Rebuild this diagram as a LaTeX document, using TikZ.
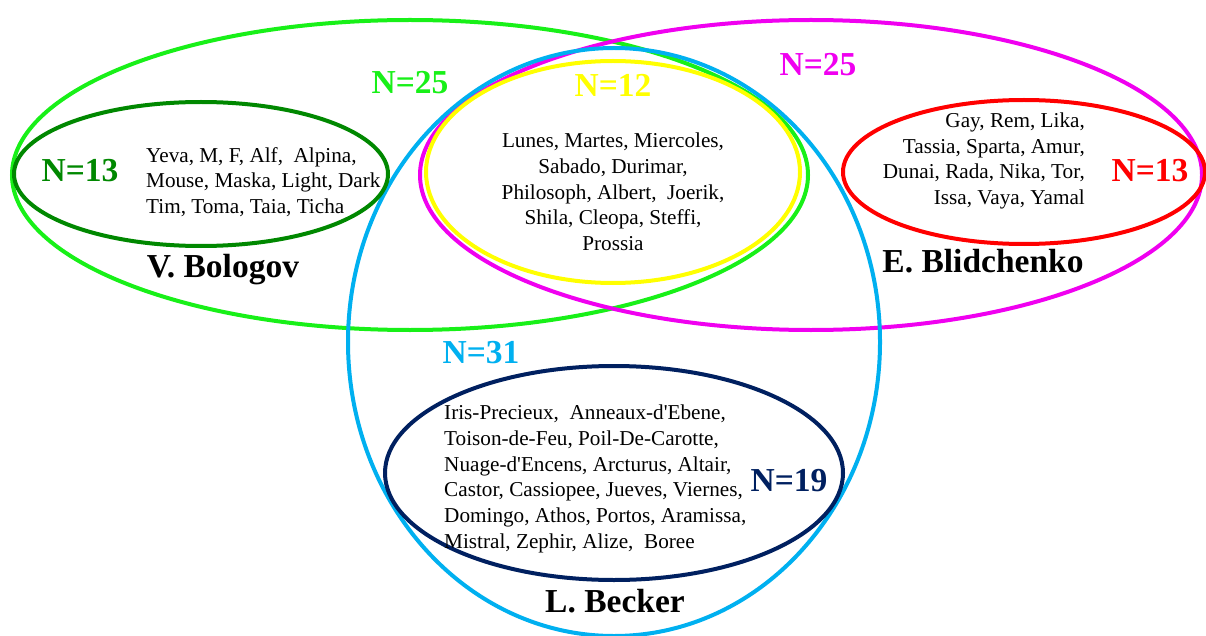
\documentclass[tikz,border=0pt]{standalone}
\usepackage{fontspec}
\setmainfont{Liberation Serif}
\definecolor{lgreen}{RGB}{24,240,24}
\definecolor{dgreen}{RGB}{0,136,0}
\definecolor{mag}{RGB}{240,0,240}
\definecolor{rred}{RGB}{255,0,0}
\definecolor{yel}{RGB}{255,255,0}
\definecolor{sky}{RGB}{0,176,240}
\definecolor{navy}{RGB}{0,32,96}
\newcommand{\ap}{\textquotesingle}
\tikzset{
	ring/.style={line width=4pt,draw=#1},
	count/.style={font=\fontsize{33.5}{33.5}\selectfont\bfseries,text=#1,inner sep=0pt},
	owner/.style={font=\fontsize{33.5}{33.5}\selectfont\bfseries,inner sep=0pt},
	names/.style={font=\fontsize{21.2}{25.7}\selectfont,inner sep=0pt,align=#1}
}

\begin{document}
\begin{tikzpicture}[x=1pt,y=-1pt]
	\useasboundingbox (0,0) rectangle (1206,636);
	\fill[white] (0,0) rectangle (1206,636);

	% outer rings
	\draw[ring=lgreen] (410,175) ellipse [x radius=398, y radius=155];
	\draw[ring=mag] (811,175) ellipse [x radius=391, y radius=155];
	\draw[ring=sky] (614,342) ellipse [x radius=266, y radius=294];

	% inner rings
	\draw[ring=dgreen] (201,174) ellipse [x radius=187, y radius=72];
	\draw[ring=rred] (1024,172) ellipse [x radius=181, y radius=72];
	\draw[ring=yel] (613,172) ellipse [x radius=187, y radius=111];
	\draw[ring=navy] (614,473) ellipse [x radius=229, y radius=107];

	% counts
	\node[count=lgreen] (nbol) at (410,83) {N=25};
	\node[count=yel] (ncom) at (613,85) {N=12};
	\node[count=mag] (nbli) at (818,65) {N=25};
	\node[count=dgreen] (nbolown) at (80,171) {N=13};
	\node[count=rred] (nbliown) at (1150,171) {N=13};
	\node[count=sky] (nbec) at (481,353) {N=31};
	\node[count=navy] (nbecown) at (789,481) {N=19};

	% owners
	\node[owner] (bologov) at (223,270) {V. Bologov};
	\node[owner] (blidchenko) at (983,261) {E. Blidchenko};
	\node[owner] (becker) at (615,601) {L. Becker};

	% names
	\node[names=left,anchor=west] (lbol) at (146,182)
		{Yeva, M, F, Alf,\ \ Alpina,\\Mouse, Maska, Light, Dark\\Tim, Toma, Taia, Ticha};
	\node[names=center] (lcom) at (613,192)
		{Lunes, Martes, Miercoles,\\Sabado, Durimar,\\Philosoph, Albert,\ \ Joerik,\\Shila, Cleopa, Steffi,\\Prossia};
	\node[names=right,anchor=east] (lbli) at (1085,161)
		{Gay, Rem, Lika,\\Tassia, Sparta, Amur,\\Dunai, Rada, Nika, Tor,\\Issa, Vaya, Yamal};
	\node[names=left,anchor=west] (lbec) at (444,479)
		{Iris-Precieux,\ \ Anneaux-d\ap Ebene,\\Toison-de-Feu, Poil-De-Carotte,\\Nuage-d\ap Encens, Arcturus, Altair,\\Castor, Cassiopee, Jueves, Viernes,\\Domingo, Athos, Portos, Aramissa,\\Mistral, Zephir, Alize,\ \ Boree};
\end{tikzpicture}
\end{document}
